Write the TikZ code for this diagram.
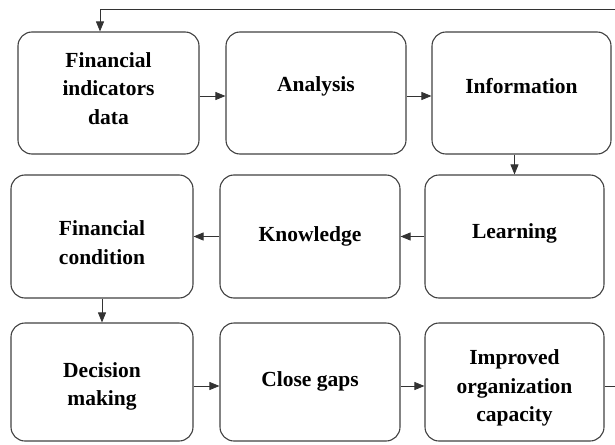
\documentclass[tikz,border=0pt]{standalone}
\usepackage{fontspec}
\setmainfont{Liberation Serif}
\usetikzlibrary{arrows.meta}
\usetikzlibrary{calc}

\begin{document}
\begin{tikzpicture}[x=1pt,y=-1pt,
    stage/.style={draw=black!75,line width=1.1pt,rounded corners=14pt,
      minimum height=122pt,inner sep=0pt},
    stagetxt/.style={align=center,inner sep=0pt,
      font=\fontsize{21.5}{28.5}\selectfont\bfseries},
    arr/.style={draw=black!80,line width=0.8pt,-{Triangle[length=10pt,width=8pt]}}]

		\useasboundingbox (0,0) rectangle (615,444);

		\coordinate (ret) at (100,9) ;

		% first row
		\node[stage,minimum width=181pt] (fid) at (108.5,93) {};
		\node[stage,minimum width=180pt] (ana) at (316,93) {};
		\node[stage,minimum width=179pt] (inf) at (521.5,93) {};

		% second row
		\node[stage,minimum width=182pt,minimum height=123pt] (fcond) at (102,236.5) {};
		\node[stage,minimum width=180pt,minimum height=123pt] (know) at (310,236.5) {};
		\node[stage,minimum width=179pt,minimum height=123pt] (learn) at (514.5,236.5) {};

		% third row
		\node[stage,minimum width=182pt,minimum height=118pt] (dec) at (102,382) {};
		\node[stage,minimum width=180pt,minimum height=118pt] (gaps) at (310,382) {};
		\node[stage,minimum width=179pt,minimum height=118pt] (imp) at (514.5,382) {};

		% texts
		\node[stagetxt] (fidtxt) at ($(fid)+(0,-4.5)$) {Financial\\indicators\\data};
		\node[stagetxt] (anatxt) at ($(ana)+(0,-7)$) {Analysis};
		\node[stagetxt] (inftxt) at ($(inf)+(0,-7)$) {Information};
		\node[stagetxt] (fcondtxt) at ($(fcond)+(0,6)$) {Financial\\condition};
		\node[stagetxt] (knowtxt) at ($(know)+(0,0)$) {Knowledge};
		\node[stagetxt] (learntxt) at ($(learn)+(0,-3.5)$) {Learning};
		\node[stagetxt] (dectxt) at ($(dec)+(0,4.5)$) {Decision\\making};
		\node[stagetxt] (gapstxt) at ($(gaps)+(0,-1)$) {Close gaps};
		\node[stagetxt] (imptxt) at ($(imp)+(0,6)$) {Improved\\organization\\capacity};

		\draw[arr] ([yshift=-3pt]fid.east) -- ([yshift=-3pt]ana.west);
		\draw[arr] ([yshift=-3pt]ana.east) -- ([yshift=-3pt]inf.west);
		\draw[arr] (inf.south -| learn) -- (learn.north);
		\draw[arr] (learn.west) -- (know.east);
		\draw[arr] (know.west) -- (fcond.east);
		\draw[arr] (fcond.south) -- (dec.north);
		\draw[arr] ([yshift=-4pt]dec.east) -- ([yshift=-4pt]gaps.west);
		\draw[arr] ([yshift=-4pt]gaps.east) -- ([yshift=-4pt]imp.west);
		\draw[arr] ([yshift=-4pt]imp.east) -- ++(25,0) |- (ret) -- (ret |- fid.north); %feedback
\end{tikzpicture}
\end{document}
